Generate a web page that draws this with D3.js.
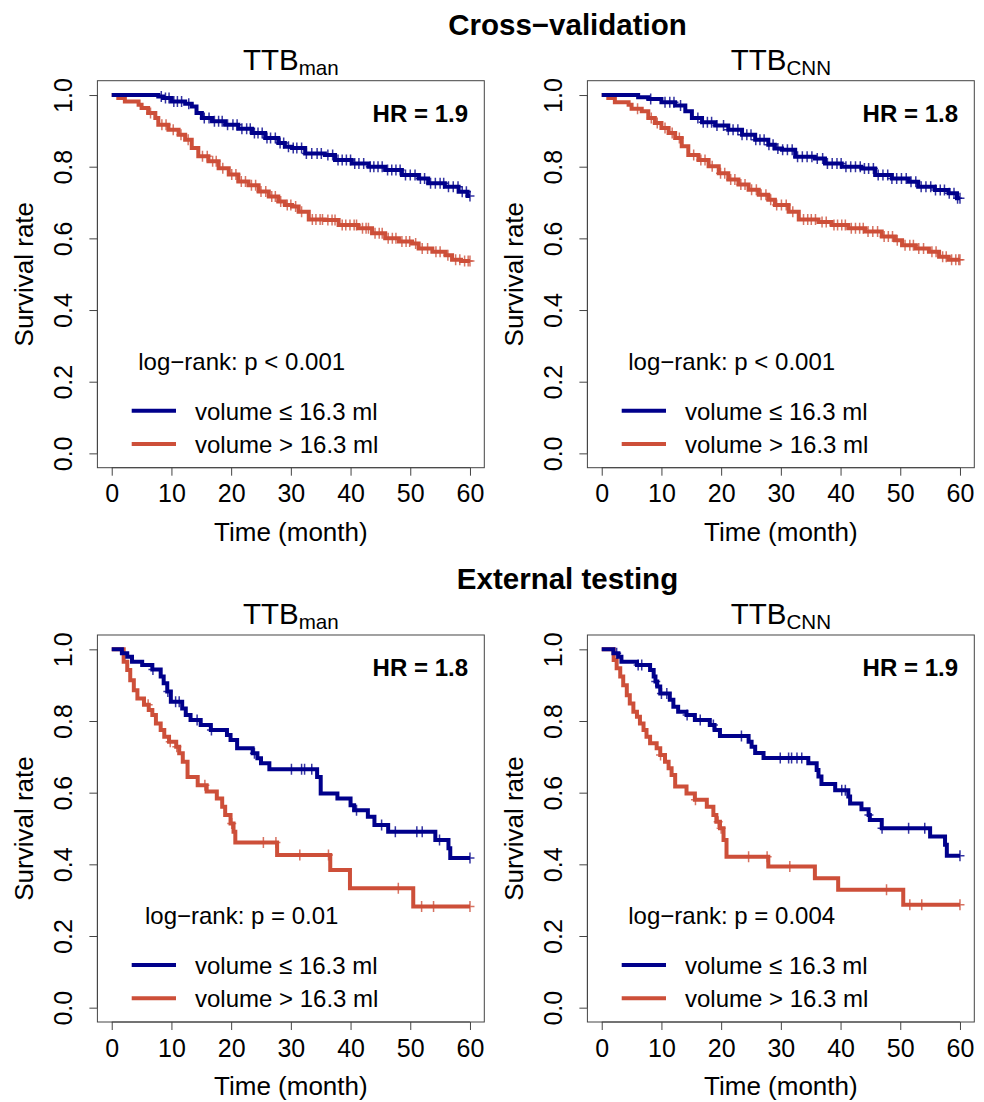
<!DOCTYPE html>
<html>
<head>
<meta charset="utf-8">
<script src="https://cdn.jsdelivr.net/npm/d3@7"></script>
<style>
  html, body { margin: 0; padding: 0; background: #fff; }
  svg text { font-family: "Liberation Sans", Arial, Helvetica, sans-serif; fill: #000; }
</style>
</head>
<body>
<svg id="chart" width="984" height="1102"></svg>
<script>
// ---------------- DATA ----------------
const sectionTitles = ["Cross\u2212validation", "External testing"];
const panelSubs = ["man", "CNN"];
const hrLabels = ["HR = 1.9", "HR = 1.8", "HR = 1.8", "HR = 1.9"];
const pLabels = ["log\u2212rank: p < 0.001", "log\u2212rank: p < 0.001", "log\u2212rank: p = 0.01", "log\u2212rank: p = 0.004"];
const legendLabels = ["volume \u2264 16.3 ml", "volume > 16.3 ml"];
const xTicks = [0, 10, 20, 30, 40, 50, 60];
const yTicks = [0.0, 0.2, 0.4, 0.6, 0.8, 1.0];
const yTickLabels = ["0.0", "0.2", "0.4", "0.6", "0.8", "1.0"];

// Cross-validation, TTB_man
const cvManLowT = [0, 7.8, 8.6, 10.0, 12.3, 13.4, 14.2, 15.1, 16.8, 19.0, 21.2, 23.5, 25.7, 27.9, 29.0, 30.2, 32.4, 35.7, 37.4, 40.2, 43.0, 45.8, 48.6, 51.4, 53.0, 55.8, 58.1, 59.6];
const cvManLowS = [1, 0.996, 0.992, 0.982, 0.976, 0.968, 0.950, 0.936, 0.927, 0.917, 0.906, 0.894, 0.880, 0.866, 0.856, 0.852, 0.837, 0.833, 0.819, 0.809, 0.800, 0.791, 0.777, 0.767, 0.754, 0.744, 0.730, 0.718];
const cvManLowC = [8.3, 9.0, 9.6, 10.4, 11.0, 11.7, 12.9, 15.5, 16.3, 17.2, 17.9, 18.5, 19.4, 20.3, 21.0, 21.8, 22.6, 23.2, 23.9, 24.5, 25.2, 26.0, 26.6, 27.4, 28.2, 28.8, 29.6, 30.4, 31.0, 31.8, 32.6, 33.5, 34.4, 35.1, 36.2, 37.0, 37.9, 38.6, 39.3, 40.0, 40.7, 41.4, 42.2, 43.3, 43.9, 44.6, 45.3, 46.2, 46.9, 47.6, 48.3, 49.2, 50.0, 50.8, 51.7, 52.4, 53.4, 54.2, 55.0, 55.6, 56.4, 57.2, 58.0, 58.7, 59.4, 60];
const cvManHighT = [0, 1.1, 2.2, 4.5, 5.0, 6.1, 7.3, 7.8, 9.5, 11.2, 12.3, 13.4, 14.5, 16.2, 17.9, 19.6, 21.2, 22.9, 24.6, 26.3, 27.9, 29.0, 30.2, 31.3, 33.0, 35.7, 38.0, 41.3, 43.6, 45.8, 48.1, 50.3, 51.4, 53.7, 55.9, 57.0, 58.5];
const cvManHighS = [1, 0.992, 0.982, 0.973, 0.964, 0.950, 0.936, 0.917, 0.903, 0.889, 0.875, 0.852, 0.829, 0.815, 0.796, 0.778, 0.759, 0.748, 0.731, 0.717, 0.703, 0.693, 0.689, 0.674, 0.653, 0.651, 0.637, 0.628, 0.614, 0.600, 0.591, 0.586, 0.572, 0.563, 0.553, 0.540, 0.537];
const cvManHighC = [6.5, 8.4, 9.1, 10.3, 11.6, 12.8, 15.2, 16.0, 16.9, 17.5, 18.6, 20.1, 20.8, 21.7, 22.4, 23.4, 24.1, 25.0, 25.8, 26.8, 27.4, 28.3, 29.4, 30.0, 30.8, 31.8, 33.6, 34.2, 34.9, 35.3, 36.2, 36.9, 37.4, 38.6, 39.2, 39.9, 40.6, 41.0, 42.0, 42.6, 43.0, 44.1, 44.8, 45.3, 46.3, 47.0, 47.6, 48.6, 49.3, 49.9, 50.9, 52.0, 52.9, 54.3, 55.0, 56.3, 57.6, 58.3, 59.1, 59.7, 60];

// Cross-validation, TTB_CNN
const cvCnnLowT = [0, 6.1, 7.8, 10.0, 12.3, 14.0, 15.1, 16.8, 19.0, 21.2, 23.5, 25.7, 27.9, 29.0, 30.2, 32.4, 35.7, 37.4, 40.2, 43.5, 45.8, 48.6, 51.4, 53.0, 55.8, 58.1, 59.5];
const cvCnnLowS = [1, 0.994, 0.989, 0.980, 0.971, 0.955, 0.936, 0.924, 0.915, 0.903, 0.889, 0.875, 0.861, 0.851, 0.847, 0.828, 0.823, 0.809, 0.800, 0.795, 0.777, 0.767, 0.758, 0.744, 0.735, 0.726, 0.712];
const cvCnnLowC = [8.2, 10.6, 11.4, 12.1, 13.2, 16.1, 17.0, 17.7, 18.4, 19.3, 20.4, 21.2, 22.0, 22.8, 23.5, 24.3, 25.0, 25.8, 26.5, 27.2, 28.0, 28.7, 29.5, 30.3, 31.1, 31.9, 32.8, 33.6, 34.4, 35.2, 36.1, 37.0, 37.8, 38.6, 39.4, 40.1, 40.9, 41.7, 42.5, 43.3, 44.0, 44.7, 45.5, 46.3, 47.1, 47.9, 48.6, 49.4, 50.2, 51.0, 51.8, 52.6, 53.5, 54.3, 55.1, 55.9, 56.7, 57.4, 58.2, 59.0, 59.6, 60];
const cvCnnHighT = [0, 1.1, 2.2, 4.5, 5.0, 6.7, 7.8, 8.9, 10.0, 11.2, 12.3, 13.4, 14.5, 16.2, 17.9, 19.6, 21.2, 22.9, 24.6, 26.3, 27.9, 29.0, 31.3, 33.0, 36.3, 38.5, 41.3, 44.1, 46.9, 49.1, 50.3, 52.6, 54.8, 56.5, 58.1];
const cvCnnHighS = [1, 0.992, 0.980, 0.973, 0.962, 0.955, 0.936, 0.922, 0.908, 0.894, 0.880, 0.857, 0.833, 0.819, 0.801, 0.782, 0.764, 0.750, 0.736, 0.722, 0.708, 0.693, 0.674, 0.653, 0.646, 0.637, 0.628, 0.619, 0.605, 0.595, 0.581, 0.572, 0.563, 0.549, 0.540];
const cvCnnHighC = [6.0, 8.3, 9.3, 10.6, 11.8, 13.0, 15.4, 16.6, 17.3, 18.5, 19.9, 20.6, 21.6, 22.3, 23.3, 24.0, 25.1, 25.9, 26.7, 27.5, 28.3, 29.3, 30.1, 30.9, 32.0, 33.8, 34.5, 35.1, 35.8, 36.9, 37.6, 38.9, 39.5, 40.2, 40.8, 41.8, 42.5, 43.2, 43.8, 44.6, 45.4, 46.2, 47.3, 48.0, 48.7, 49.5, 50.8, 51.6, 52.2, 53.1, 53.9, 55.3, 56.0, 57.1, 57.7, 58.6, 59.3, 59.8, 60];

// External testing, TTB_man
const exManLowT = [0, 1.7, 2.6, 3.4, 5.1, 6.8, 8.2, 8.7, 9.3, 9.9, 11.8, 12.4, 13.2, 14.9, 16.6, 19.3, 19.9, 21.0, 23.6, 24.4, 25.0, 26.4, 34.4, 35.0, 37.8, 40.0, 40.6, 42.9, 44.0, 46.3, 54.2, 56.4, 56.7];
const exManLowS = [1, 0.989, 0.979, 0.965, 0.956, 0.944, 0.924, 0.905, 0.882, 0.854, 0.835, 0.817, 0.803, 0.789, 0.775, 0.761, 0.747, 0.724, 0.710, 0.696, 0.682, 0.665, 0.644, 0.598, 0.584, 0.565, 0.551, 0.533, 0.510, 0.491, 0.468, 0.445, 0.418];
const exManLowC = [6.9, 9.4, 10.7, 11.3, 14.3, 16.7, 23.9, 30.1, 31.8, 32.3, 33.5, 41.0, 45.2, 47.5, 51.1, 52.0, 54.9, 60];
const exManHighT = [0, 2.0, 2.6, 3.1, 3.7, 4.3, 5.4, 6.2, 6.8, 7.4, 8.2, 8.8, 9.6, 10.8, 11.3, 11.9, 12.7, 14.4, 15.9, 17.6, 18.5, 19.0, 19.9, 20.4, 20.7, 27.7, 36.6, 39.9, 50.5];
const exManHighS = [1, 0.965, 0.942, 0.914, 0.886, 0.863, 0.845, 0.831, 0.817, 0.793, 0.775, 0.756, 0.742, 0.728, 0.710, 0.686, 0.644, 0.621, 0.603, 0.584, 0.561, 0.538, 0.514, 0.491, 0.461, 0.426, 0.384, 0.333, 0.282];
const exManHighC = [6.1, 9.8, 10.9, 15.6, 20.1, 25.4, 27.5, 31.5, 36.3, 48.0, 51.9, 53.9, 60];

// External testing, TTB_CNN
const exCnnLowT = [0, 1.95, 2.8, 3.3, 5.9, 8.1, 8.7, 9.0, 9.3, 9.8, 11.4, 12.0, 12.8, 14.2, 15.6, 18.1, 18.9, 19.8, 24.6, 25.1, 25.7, 27.1, 34.6, 36.0, 36.3, 36.8, 39.1, 41.3, 41.6, 43.5, 44.7, 44.9, 46.9, 55.0, 57.5, 57.8];
const exCnnLowS = [1, 0.989, 0.979, 0.965, 0.956, 0.942, 0.924, 0.910, 0.896, 0.877, 0.859, 0.840, 0.826, 0.817, 0.803, 0.789, 0.775, 0.758, 0.742, 0.728, 0.711, 0.697, 0.682, 0.663, 0.645, 0.624, 0.607, 0.589, 0.570, 0.554, 0.538, 0.524, 0.501, 0.478, 0.455, 0.424];
const exCnnLowC = [2.5, 6.1, 6.7, 9.05, 10.0, 10.9, 14.3, 16.5, 18.7, 23.4, 29.9, 31.3, 31.8, 32.7, 33.5, 40.2, 40.8, 44.75, 46.95, 51.4, 54.1, 60];
const exCnnHighT = [0, 2.0, 2.5, 3.1, 3.6, 4.2, 4.7, 5.3, 5.9, 6.4, 7.0, 7.5, 8.1, 9.2, 9.8, 10.6, 11.2, 11.7, 12.3, 14.2, 15.6, 17.6, 18.7, 19.2, 19.8, 20.4, 20.9, 27.9, 35.7, 39.6, 50.5];
const exCnnHighS = [1, 0.970, 0.947, 0.924, 0.900, 0.872, 0.849, 0.826, 0.812, 0.793, 0.775, 0.756, 0.738, 0.724, 0.705, 0.686, 0.668, 0.649, 0.617, 0.598, 0.580, 0.561, 0.538, 0.519, 0.501, 0.468, 0.421, 0.394, 0.361, 0.329, 0.287];
const exCnnHighC = [9.85, 15.7, 19.5, 20.0, 24.6, 27.7, 31.5, 47.7, 51.6, 53.6, 60];

const colorLow = "#00008B";
const colorHigh = "#CD4F39";

// ---------------- LAYOUT ----------------
const panels = [
  { col: 0, row: 0, sub: panelSubs[0], hr: hrLabels[0], p: pLabels[0],
    low: [cvManLowT, cvManLowS, cvManLowC], high: [cvManHighT, cvManHighS, cvManHighC] },
  { col: 1, row: 0, sub: panelSubs[1], hr: hrLabels[1], p: pLabels[1],
    low: [cvCnnLowT, cvCnnLowS, cvCnnLowC], high: [cvCnnHighT, cvCnnHighS, cvCnnHighC] },
  { col: 0, row: 1, sub: panelSubs[0], hr: hrLabels[2], p: pLabels[2],
    low: [exManLowT, exManLowS, exManLowC], high: [exManHighT, exManHighS, exManHighC] },
  { col: 1, row: 1, sub: panelSubs[1], hr: hrLabels[3], p: pLabels[3],
    low: [exCnnLowT, exCnnLowS, exCnnLowC], high: [exCnnHighT, exCnnHighS, exCnnHighC] }
];

const colDX = [0, 490];
const rowDY = [0, 554.3];
const box = { left: 97.4, right: 484.3, top: 80.7, bottom: 467.7 };
const x = d3.scaleLinear().domain([-2.4, 62.4]).range([box.left, box.right]);
const y = d3.scaleLinear().domain([-0.04, 1.04]).range([box.bottom, box.top]);

const svg = d3.select("#chart");
svg.append("rect").attr("width", 984).attr("height", 1102).attr("fill", "#fff");

// section titles
sectionTitles.forEach((t, i) => {
  svg.append("text")
    .attr("x", 567.5).attr("y", 35 + rowDY[i])
    .attr("text-anchor", "middle")
    .attr("font-size", 29.5).attr("font-weight", "bold")
    .text(t);
});

const line = d3.line()
  .x(d => x(d[0])).y(d => y(d[1]))
  .curve(d3.curveStepAfter);

function survAt(T, S, t) {
  const i = d3.bisectRight(T, t) - 1;
  return S[Math.max(0, i)];
}

panels.forEach(p => {
  const g = svg.append("g").attr("transform", `translate(${colDX[p.col]},${rowDY[p.row]})`);

  // panel title TTB_sub
  const tt = g.append("text")
    .attr("x", (box.left + box.right) / 2).attr("y", 70)
    .attr("text-anchor", "middle").attr("font-size", 29.5);
  tt.append("tspan").text("TTB");
  tt.append("tspan").attr("font-size", 20.6).attr("dy", 5).text(p.sub);

  // box
  g.append("rect")
    .attr("x", box.left).attr("y", box.top)
    .attr("width", box.right - box.left).attr("height", box.bottom - box.top)
    .attr("fill", "none").attr("stroke", "#444").attr("stroke-width", 1);

  // x axis
  const xa = g.append("g").attr("transform", `translate(0,${box.bottom})`)
    .call(d3.axisBottom(x).tickValues(xTicks).tickFormat(d3.format("d"))
      .tickSize(8).tickPadding(9).tickSizeOuter(0));
  xa.select(".domain").remove();
  xa.append("line").attr("x1", x(0)).attr("x2", x(60)).attr("stroke", "#444");
  xa.selectAll("line").attr("stroke", "#444");
  xa.selectAll("text").attr("font-size", 25).attr("fill", "#000")
    .style("font-family", "'Liberation Sans', Arial, sans-serif");

  // y axis
  const ya = g.append("g").attr("transform", `translate(${box.left},0)`)
    .call(d3.axisLeft(y).tickValues(yTicks).tickFormat((d, i) => yTickLabels[i])
      .tickSize(8).tickSizeOuter(0));
  ya.select(".domain").remove();
  ya.append("line").attr("y1", y(0)).attr("y2", y(1)).attr("stroke", "#444");
  ya.selectAll("line").attr("stroke", "#444");
  ya.selectAll("text")
    .attr("x", 0).attr("dy", 0)
    .attr("text-anchor", "middle")
    .attr("transform", "translate(-25,0) rotate(-90)")
    .attr("font-size", 25).attr("fill", "#000")
    .style("font-family", "'Liberation Sans', Arial, sans-serif");

  // axis titles
  g.append("text")
    .attr("x", (box.left + box.right) / 2).attr("y", 541)
    .attr("text-anchor", "middle").attr("font-size", 26)
    .text("Time (month)");
  g.append("text")
    .attr("transform", `translate(33,${(box.top + box.bottom) / 2}) rotate(-90)`)
    .attr("text-anchor", "middle").attr("font-size", 26)
    .text("Survival rate");

  // curves (high first so low overlays like the reference)
  [[p.high, colorHigh], [p.low, colorLow]].forEach(([ser, col]) => {
    const [T, S, C] = ser;
    const pts = T.map((t, i) => [t, S[i]]);
    pts.push([60, S[S.length - 1]]);
    g.append("path").datum(pts)
      .attr("d", line)
      .attr("fill", "none").attr("stroke", col)
      .attr("stroke-width", 4);
    const cg = g.append("g");
    C.forEach(c => {
      const cx = x(c), cy = y(survAt(T, S, c));
      cg.append("path")
        .attr("d", `M${cx - 4.5},${cy}H${cx + 4.5}M${cx},${cy - 5.5}V${cy + 5.5}`)
        .attr("stroke", col).attr("stroke-width", 1.5).attr("fill", "none")
        .attr("opacity", 0.8);
    });
  });

  // HR label
  g.append("text")
    .attr("x", 468).attr("y", 121.7)
    .attr("text-anchor", "end").attr("font-size", 24).attr("font-weight", "bold")
    .text(p.hr);

  // log-rank label
  g.append("text")
    .attr("x", 241.7).attr("y", 369.5)
    .attr("text-anchor", "middle").attr("font-size", 24)
    .text(p.p);

  // legend
  [[legendLabels[0], colorLow, 410.7], [legendLabels[1], colorHigh, 444]].forEach(([lab, col, ly]) => {
    g.append("line")
      .attr("x1", 131.7).attr("x2", 176).attr("y1", ly).attr("y2", ly)
      .attr("stroke", col).attr("stroke-width", 4);
    g.append("text")
      .attr("x", 195).attr("y", ly + 9)
      .attr("font-size", 24)
      .text(lab);
  });
});
</script>
</body>
</html>
